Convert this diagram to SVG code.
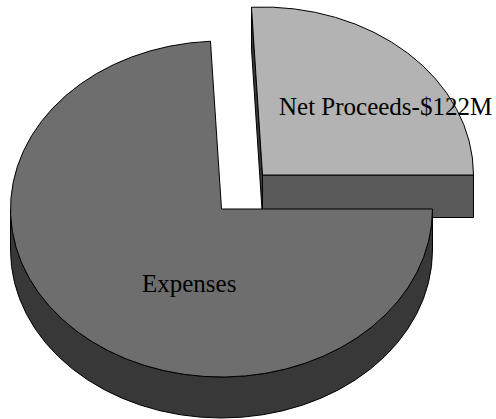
<svg xmlns="http://www.w3.org/2000/svg" width="496" height="419" viewBox="0 0 496 419">
<style>
.edge{stroke:#000;stroke-width:1;stroke-linejoin:round}
.label{font-family:"Liberation Serif","Times New Roman",serif;font-size:25px;fill:#000}
</style>
<rect width="496" height="419" fill="#fff"/>
<g id="slice-net-proceeds">
<polygon class="edge" points="251.5,7.2 262.5,175 262.5,217.5 251.5,49.2" fill="#3a3a3a"/>
<rect class="edge" x="262.5" y="175" width="211" height="42.5" fill="#595959"/>
<path class="edge" d="M262.5,175 L251.46,7.23 A211 168 0 0 1 473.5,175 Z" fill="#b3b3b3"/>
</g>
<g id="slice-expenses">
<path class="edge" d="M432.5,209 A211 168 0 0 1 10.5,209 L10.5,250 A211 168 0 0 0 432.5,250 Z" fill="#383838"/>
<path class="edge" d="M221.5,209 L432.5,209 A211 168 0 1 1 210.46,41.23 Z" fill="#6e6e6e"/>
</g>
<g id="labels">
<text class="label" x="279" y="115">Net Proceeds-$122M</text>
<text class="label" x="142" y="292">Expenses</text>
</g>
</svg>
